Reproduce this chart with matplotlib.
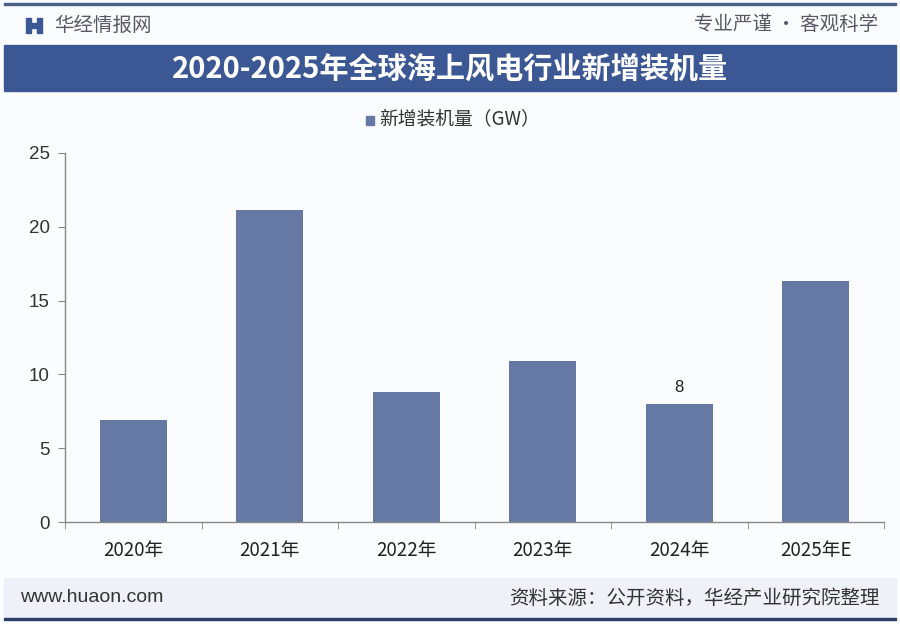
import matplotlib
matplotlib.use("Agg")
import matplotlib.pyplot as plt
from matplotlib.patches import Rectangle

plt.rcParams['font.family'] = ['Noto Sans CJK SC', 'DejaVu Sans']

categories = ["2020年", "2021年", "2022年", "2023年", "2024年", "2025年E"]
values = [6.9, 21.1, 8.8, 10.9, 8.0, 16.3]
label_index = [4]
y_ticks = [0, 5, 10, 15, 20, 25]

title = "2020-2025年全球海上风电行业新增装机量"
legend_label = "新增装机量（GW）"
brand = "华经情报网"
slogan = "专业严谨 • 客观科学"
site = "www.huaon.com"
source = "资料来源：公开资料，华经产业研究院整理"

bar_color = "#6679a4"
band_color = "#3b5894"
navy = "#2c3f66"

fig = plt.figure(figsize=(9, 6.24), dpi=100)
fig.patch.set_facecolor("#fbfcfe")

W, H = 900, 624
def fx(px):
    return px / W
def fy(py):
    return 1 - py / H

# top line
fig.add_artist(Rectangle((fx(4), fy(5)), fx(892), 2.5 / H, transform=fig.transFigure,
                         color="#4a5f85", zorder=0))
# logo
fig.add_artist(Rectangle((fx(26), fy(33)), fx(5), 15 / H, transform=fig.transFigure,
                         color=band_color))
fig.add_artist(Rectangle((fx(37), fy(33)), fx(5), 15 / H, transform=fig.transFigure,
                         color=band_color))
fig.add_artist(Rectangle((fx(31), fy(28)), fx(6), 5 / H, transform=fig.transFigure,
                         color=band_color))
fig.text(fx(54), fy(25), brand, fontsize=14, color="#555a66", va="center", ha="left")
fig.text(fx(878), fy(25), slogan, fontsize=14, color="#555a66", va="center", ha="right")

# title band
fig.add_artist(Rectangle((fx(4), fy(91)), fx(892), 46 / H, transform=fig.transFigure,
                         color=band_color, zorder=0))
fig.text(0.5, fy(69), title, fontsize=21, fontweight="bold", color="white",
         va="center", ha="center")

# footer band
fig.add_artist(Rectangle((fx(4), fy(617)), fx(892), 39 / H, transform=fig.transFigure,
                         color="#eef1f8", zorder=0))
fig.add_artist(Rectangle((fx(4), fy(620)), fx(892), 2 / H, transform=fig.transFigure,
                         color=navy, zorder=1))
fig.text(fx(20), fy(598), site, fontsize=14, color="#333333", va="center", ha="left",
         family=["Liberation Sans", "DejaVu Sans"])
fig.text(fx(880), fy(598), source, fontsize=14, color="#333333", va="center", ha="right")

# axes
ax = fig.add_axes([fx(65), fy(522.3), fx(819), (522.3 - 152.7) / H])
ax.set_facecolor("none")
x = list(range(len(categories)))
bars = ax.bar(x, values, width=0.49, color=bar_color, zorder=2)
ax.set_xlim(-0.5, len(categories) - 0.5)
ax.set_ylim(0, 25)
ax.set_yticks(y_ticks)
ax.set_yticklabels([str(t) for t in y_ticks], family=["Liberation Sans", "DejaVu Sans"],
                   fontsize=13.5, color="#333333")
ax.set_xticks(x)
ax.set_xticklabels(categories, fontsize=13.5, color="#222222")
ax.tick_params(axis="x", length=0, pad=13)
ax.set_xticks([i - 0.5 for i in range(len(categories) + 1)], minor=True)
ax.tick_params(axis="x", which="minor", length=5, color="#888888")
ax.tick_params(axis="y", length=5, color="#888888", pad=6)
for s in ["top", "right"]:
    ax.spines[s].set_visible(False)
for s in ["left", "bottom"]:
    ax.spines[s].set_color("#888888")
    ax.spines[s].set_linewidth(1.0)

for i in label_index:
    ax.text(x[i], values[i] + 0.6, f"{values[i]:g}", ha="center", va="bottom",
            fontsize=12, color="#222222", family=["Liberation Sans", "DejaVu Sans"])

# legend
fig.add_artist(Rectangle((fx(366), fy(125)), fx(8), 9 / H, transform=fig.transFigure,
                         color=bar_color))
fig.text(fx(379), fy(120), legend_label, fontsize=13.5, color="#333333",
         va="center", ha="left")

fig.savefig("out.png", dpi=100, facecolor=fig.get_facecolor())
